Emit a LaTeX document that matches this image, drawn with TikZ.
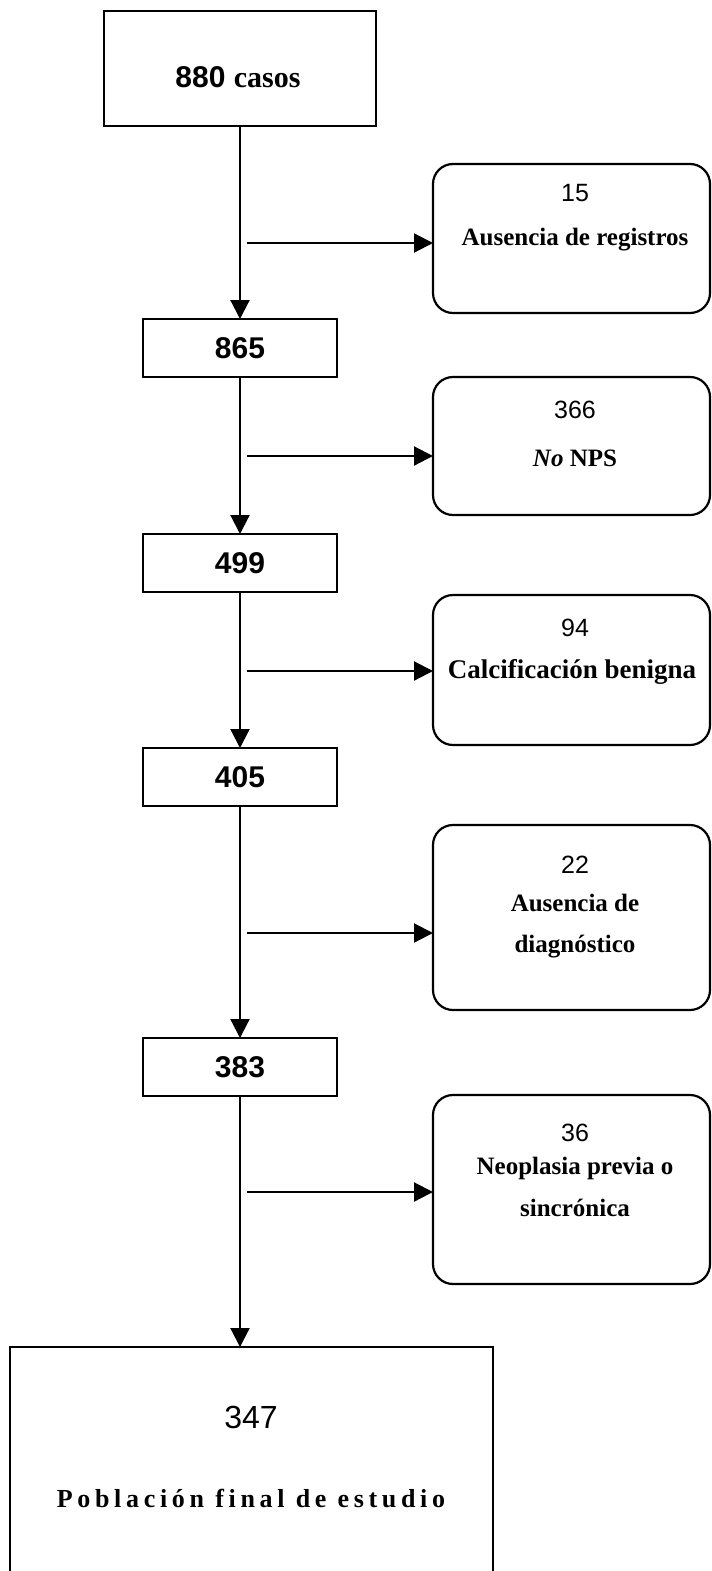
\documentclass[tikz,border=0pt]{standalone}
\usepackage{fontspec}
\setmainfont{Liberation Serif}
\newfontfamily\arialfam{Liberation Sans}
\newfontfamily\spacedfam[LetterSpace=18]{Liberation Serif}
\usetikzlibrary{arrows.meta}
\begin{document}
\begin{tikzpicture}[x=1bp,y=-1bp,
  every node/.style={inner sep=0pt, outer sep=0pt},
  sqbox/.style={draw, line width=2.2bp, rectangle},
  rbox/.style={draw, line width=2.2bp, rectangle, rounded corners=20bp, minimum width=277bp},
  arr/.style={line width=2.2bp, -{Triangle[length=19bp,width=19bp]}},
  bignum/.style={font=\arialfam\bfseries\fontsize{30bp}{36bp}\selectfont},
  num/.style={font=\arialfam\fontsize{25bp}{30bp}\selectfont},
  lbl/.style={font=\bfseries\fontsize{25bp}{30bp}\selectfont},
]
\clip (0,0) rectangle (712,1571);
% main column
\node[sqbox, minimum width=272bp, minimum height=115bp] (b880) at (240,68.5) {};
\node[bignum] (t880) at (238,77) {880 {\rmfamily\fontsize{30bp}{36bp}\selectfont casos}};
\node[sqbox, bignum, minimum width=194bp, minimum height=58bp] (b865) at (240,348) {865};
\node[sqbox, bignum, minimum width=194bp, minimum height=58bp] (b499) at (240,563) {499};
\node[sqbox, bignum, minimum width=194bp, minimum height=58bp] (b405) at (240,777) {405};
\node[sqbox, bignum, minimum width=194bp, minimum height=58bp] (b383) at (240,1067) {383};
\node[sqbox, minimum width=483bp, minimum height=240bp] (fin) at (251.5,1467) {};
\node[font=\arialfam\fontsize{32bp}{38bp}\selectfont] (t347) at (251,1417) {347};
\node[font=\spacedfam\bfseries\fontsize{26bp}{30bp}\selectfont] (tfin) at (251,1498) {Población final de estudio};
% right boxes
\node[rbox, minimum height=149bp] (r15) at (571.5,238.5) {};
\node[num] (t15) at (575,193) {15};
\node[lbl] (l15) at (575,240) {Ausencia de registros};
\node[rbox, minimum height=138bp] (r366) at (571.5,446) {};
\node[num] (t366) at (575,410) {366};
\node[lbl] (l366) at (575,458) {\itshape No\/ \upshape NPS};
\node[rbox, minimum height=150bp] (r94) at (571.5,670) {};
\node[num] (t94) at (575,628) {94};
\node[lbl, font=\bfseries\fontsize{27bp}{32bp}\selectfont] (l94) at (572,672) {Calcificación benigna};
\node[rbox, minimum height=185bp] (r22) at (571.5,917.5) {};
\node[num] (t22) at (575,865) {22};
\node[lbl] (l22a) at (575,903) {Ausencia de};
\node[lbl] (l22b) at (575,947) {diagnóstico};
\node[rbox, minimum height=189bp] (r36) at (571.5,1189.5) {};
\node[num] (t36) at (575,1133) {36};
\node[lbl] (l36a) at (575,1168) {Neoplasia previa o};
\node[lbl] (l36b) at (575,1208) {sincrónica};
% vertical arrows
\draw[arr] (b880.south) -- (b865.north);
\draw[arr] (b865.south) -- (b499.north);
\draw[arr] (b499.south) -- (b405.north);
\draw[arr] (b405.south) -- (b383.north);
\draw[arr] (b383.south) -- (b383.south |- fin.north);
% horizontal arrows
\coordinate (s15) at (247,243);
\coordinate (s366) at (247,456);
\coordinate (s94) at (247,671);
\coordinate (s22) at (247,933);
\coordinate (s36) at (247,1192);
\draw[arr] (s15) -- (s15 -| r15.west);
\draw[arr] (s366) -- (s366 -| r366.west);
\draw[arr] (s94) -- (s94 -| r94.west);
\draw[arr] (s22) -- (s22 -| r22.west);
\draw[arr] (s36) -- (s36 -| r36.west);
\end{tikzpicture}
\end{document}
